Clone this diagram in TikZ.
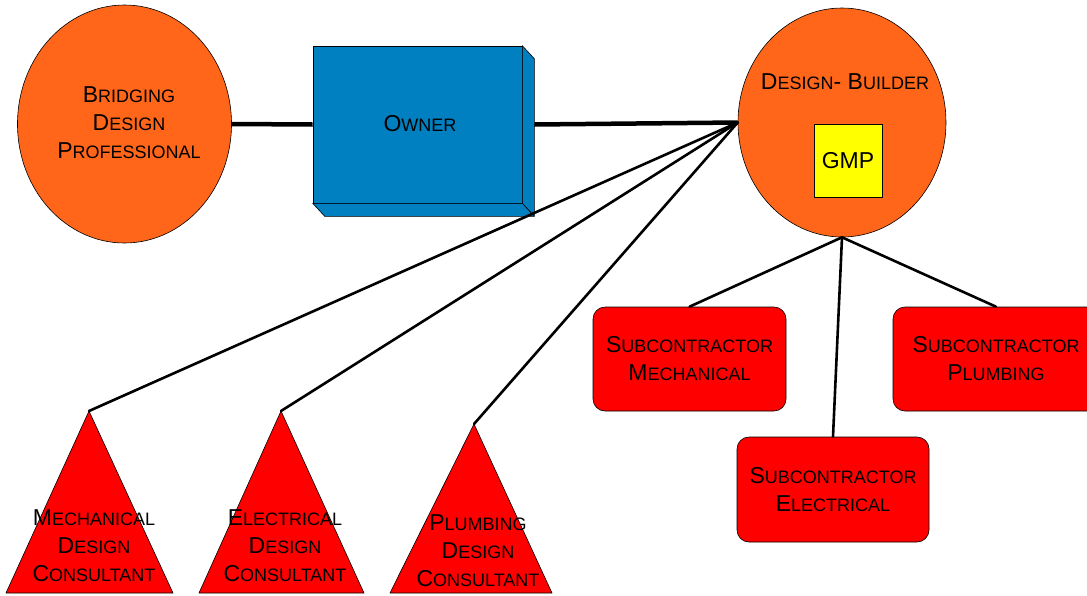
\documentclass[tikz,border=0pt]{standalone}
\usepackage{fontspec}
\setmainfont{Liberation Sans}
\usetikzlibrary{shapes.geometric}

% small capitals built from a reduced upper-case size
\newcommand\sm[1]{{\fontsize{18pt}{28pt}\selectfont #1}}

\definecolor{ovalorange}{RGB}{255,102,26}
\definecolor{ownerblue}{RGB}{0,128,192}
\definecolor{subred}{RGB}{255,0,0}
\definecolor{gmpyellow}{RGB}{255,255,0}

\begin{document}
\begin{tikzpicture}[x=1pt, y=-1pt,
  txt/.style={font=\fontsize{23pt}{28pt}\selectfont, align=center, inner sep=0pt},
  oval/.style={ellipse, draw=black, line width=0.6pt, fill=ovalorange, inner sep=0pt},
  ownerface/.style={draw=black, line width=0.6pt, fill=ownerblue, line join=round},
  subbox/.style={rectangle, rounded corners=12pt, draw=black, line width=0.6pt,
    fill=subred, minimum width=193pt, minimum height=104pt, inner sep=0pt,
    font=\fontsize{23pt}{28pt}\selectfont, align=center},
  tri/.style={draw=black, line width=0.6pt, fill=subred, line join=miter},
  thickline/.style={line width=4.5pt},
  thinline/.style={line width=2.6pt, line cap=round}]

\useasboundingbox (0,0) rectangle (1087,595);
\clip (0,0) rectangle (1087,595);

% left oval
\node[oval, minimum width=214pt, minimum height=238pt] (bdp) at (124.5,124) {};
\node[txt] (bdptext) at (129,123) {B\sm{RIDGING}\\D\sm{ESIGN}\\P\sm{ROFESSIONAL}};

% owner block with its extruded faces
\node[rectangle, ownerface, minimum width=209pt, minimum height=157pt, inner sep=0pt]
  (owner) at (417.5,124.5) {};
\draw[ownerface] (owner.north east) -- ([shift={(12,13)}]owner.north east)
  -- ([shift={(12,13)}]owner.south east) -- (owner.south east) -- cycle;
\draw[ownerface] (owner.south west) -- ([shift={(12,13)}]owner.south west)
  -- ([shift={(12,13)}]owner.south east) -- (owner.south east) -- cycle;
\node[txt] (ownertext) at (420,124) {O\sm{WNER}};
\coordinate (ownerside) at ([xshift=12pt]owner.east);

% design-builder oval with the GMP box
\node[oval, minimum width=208pt, minimum height=229pt] (db) at (842,122.5) {};
\node[txt] (dbtext) at (845,82) {D\sm{ESIGN}- B\sm{UILDER}};
\node[rectangle, draw=black, line width=0.6pt, fill=gmpyellow, minimum width=68pt,
  minimum height=73pt, inner sep=0pt, font=\fontsize{23pt}{28pt}\selectfont]
  (gmp) at (848,160.5) {GMP};

% design consultants
\coordinate (mdc) at (89,411);
\draw[tri] (mdc) -- (173,593) -- (6,593) -- cycle;
\node[txt] (mdctext) at (94,546) {M\sm{ECHANICAL}\\D\sm{ESIGN}\\C\sm{ONSULTANT}};

\coordinate (edc) at (281,411);
\draw[tri] (edc) -- (364,593) -- (199,593) -- cycle;
\node[txt] (edctext) at (285,546) {E\sm{LECTRICAL}\\D\sm{ESIGN}\\C\sm{ONSULTANT}};

\coordinate (pdc) at (474,424);
\draw[tri] (pdc) -- (552,593) -- (390,593) -- cycle;
\node[txt] (pdctext) at (478,551) {P\sm{LUMBING}\\D\sm{ESIGN}\\C\sm{ONSULTANT}};

% subcontractors
\node[subbox] (subm) at (689.5,359) {S\sm{UBCONTRACTOR}\\M\sm{ECHANICAL}};
\node[subbox, minimum width=206pt] (subp) at (996,359) {S\sm{UBCONTRACTOR}\\P\sm{LUMBING}};
\node[subbox, minimum width=192pt, minimum height=105pt] (sube) at (833,489.5)
  {S\sm{UBCONTRACTOR}\\E\sm{LECTRICAL}};

% connectors
\draw[thickline] (bdp.east) -- (owner.west);
\draw[thickline] (ownerside) -- (db.west);
\draw[thinline] (db.west) -- (mdc);
\draw[thinline] (db.west) -- (edc);
\draw[thinline] (db.west) -- (pdc);
\draw[thinline] (db.south) -- (subm.north);
\draw[thinline] (db.south) -- (sube.north);
\draw[thinline] (db.south) -- (subp.north);
\end{tikzpicture}
\end{document}
